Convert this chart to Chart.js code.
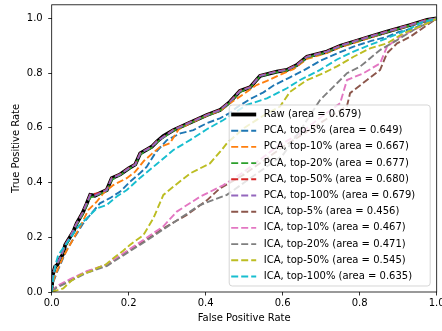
<!DOCTYPE html>
<html>
<head>
<meta charset="utf-8">
<script src="https://cdn.jsdelivr.net/npm/chart.js@4"></script>
<style>
  body { margin: 0; background: #fff; }
</style>
</head>
<body>
<canvas id="roc" width="442" height="331"></canvas>
<script>
// series names and the area shown in the legend
const seriesNames = ['Raw', 'PCA, top-5%', 'PCA, top-10%', 'PCA, top-20%', 'PCA, top-50%', 'PCA, top-100%',
  'ICA, top-5%', 'ICA, top-10%', 'ICA, top-20%', 'ICA, top-50%', 'ICA, top-100%'];
const areas = [0.679, 0.649, 0.667, 0.677, 0.680, 0.679, 0.456, 0.467, 0.471, 0.545, 0.635];
const tickValues = [0, 0.2, 0.4, 0.6, 0.8, 1.0];

// [false positive rate, true positive rate]
const raw = [[0,0],[0.002,0.06],[0.009,0.093],[0.015,0.1],[0.022,0.123],[0.03,0.14],[0.035,0.172],[0.048,0.202],
  [0.056,0.22],[0.065,0.251],[0.08,0.288],[0.09,0.32],[0.1,0.355],[0.112,0.352],[0.125,0.361],[0.143,0.373],
  [0.156,0.416],[0.178,0.43],[0.2,0.452],[0.217,0.466],[0.23,0.507],[0.26,0.531],[0.273,0.55],[0.29,0.57],
  [0.316,0.592],[0.36,0.62],[0.403,0.647],[0.437,0.665],[0.463,0.695],[0.489,0.735],[0.515,0.748],[0.541,0.79],
  [0.585,0.806],[0.611,0.812],[0.637,0.83],[0.663,0.86],[0.715,0.879],[0.75,0.9],[0.784,0.915],[0.83,0.935],
  [0.871,0.952],[0.931,0.976],[0.975,0.995],[1,1]];
const pca5 = [[0,0],[0.005,0.04],[0.013,0.07],[0.022,0.099],[0.039,0.154],[0.06,0.202],[0.082,0.251],[0.1,0.282],
  [0.125,0.324],[0.151,0.343],[0.178,0.367],[0.203,0.403],[0.229,0.434],[0.247,0.458],[0.27,0.51],[0.299,0.555],
  [0.334,0.58],[0.368,0.592],[0.403,0.617],[0.437,0.635],[0.463,0.655],[0.481,0.675],[0.515,0.705],[0.55,0.73],
  [0.576,0.755],[0.619,0.785],[0.654,0.81],[0.697,0.845],[0.741,0.872],[0.784,0.897],[0.83,0.918],[0.871,0.933],
  [0.9,0.95],[0.94,0.964],[0.975,0.985],[1,1]];
const pca10 = [[0,0],[0.004,0.04],[0.013,0.074],[0.03,0.129],[0.052,0.184],[0.074,0.239],[0.095,0.3],[0.117,0.33],
  [0.134,0.361],[0.16,0.391],[0.195,0.416],[0.217,0.44],[0.24,0.48],[0.26,0.505],[0.282,0.531],[0.307,0.544],
  [0.33,0.595],[0.36,0.617],[0.403,0.645],[0.437,0.662],[0.463,0.69],[0.5,0.725],[0.53,0.755],[0.559,0.772],
  [0.59,0.792],[0.628,0.815],[0.663,0.852],[0.715,0.874],[0.75,0.895],[0.784,0.91],[0.83,0.931],[0.871,0.95],
  [0.931,0.974],[0.975,0.993],[1,1]];
const pca20 = [[0,0],[0.002,0.055],[0.009,0.09],[0.022,0.12],[0.035,0.168],[0.048,0.198],[0.065,0.246],[0.08,0.282],
  [0.1,0.345],[0.125,0.358],[0.143,0.37],[0.156,0.41],[0.178,0.428],[0.2,0.45],[0.217,0.464],[0.23,0.503],
  [0.26,0.528],[0.273,0.547],[0.316,0.59],[0.36,0.618],[0.403,0.645],[0.437,0.663],[0.463,0.692],[0.489,0.732],
  [0.515,0.746],[0.541,0.788],[0.585,0.804],[0.611,0.81],[0.637,0.828],[0.663,0.857],[0.715,0.877],[0.75,0.898],
  [0.784,0.913],[0.83,0.933],[0.871,0.95],[0.931,0.975],[0.975,0.994],[1,1]];
const pca50 = [[0,0],[0.002,0.06],[0.009,0.094],[0.022,0.124],[0.035,0.173],[0.048,0.203],[0.065,0.252],[0.08,0.289],
  [0.1,0.356],[0.125,0.362],[0.143,0.374],[0.156,0.417],[0.178,0.431],[0.2,0.453],[0.217,0.467],[0.23,0.508],
  [0.26,0.532],[0.273,0.551],[0.316,0.593],[0.36,0.621],[0.403,0.648],[0.437,0.666],[0.463,0.696],[0.489,0.736],
  [0.515,0.749],[0.541,0.791],[0.585,0.807],[0.611,0.813],[0.637,0.831],[0.663,0.861],[0.715,0.88],[0.75,0.901],
  [0.784,0.916],[0.83,0.936],[0.871,0.953],[0.931,0.977],[0.975,0.996],[1,1]];
const pca100 = [[0,0],[0.002,0.06],[0.009,0.093],[0.022,0.123],[0.035,0.172],[0.048,0.202],[0.065,0.251],[0.08,0.288],
  [0.1,0.355],[0.112,0.352],[0.125,0.361],[0.143,0.373],[0.156,0.416],[0.178,0.43],[0.2,0.452],[0.217,0.466],
  [0.23,0.507],[0.26,0.531],[0.273,0.55],[0.316,0.592],[0.36,0.62],[0.403,0.647],[0.437,0.665],[0.463,0.695],
  [0.489,0.735],[0.515,0.748],[0.541,0.79],[0.585,0.806],[0.611,0.812],[0.637,0.83],[0.663,0.86],[0.715,0.879],
  [0.75,0.9],[0.784,0.915],[0.83,0.935],[0.871,0.952],[0.931,0.976],[0.975,0.995],[1,1]];
const ica5 = [[0,0],[0.013,0.019],[0.048,0.044],[0.091,0.074],[0.143,0.099],[0.195,0.147],[0.238,0.184],[0.29,0.233],
  [0.351,0.282],[0.403,0.335],[0.437,0.379],[0.5,0.43],[0.6,0.53],[0.7,0.62],[0.767,0.68],[0.775,0.727],
  [0.819,0.775],[0.853,0.812],[0.871,0.873],[0.897,0.909],[0.931,0.933],[0.975,0.976],[1,1]];
const ica10 = [[0,0],[0.013,0.022],[0.048,0.047],[0.091,0.076],[0.143,0.1],[0.195,0.15],[0.238,0.19],[0.29,0.24],
  [0.325,0.294],[0.385,0.348],[0.446,0.391],[0.5,0.44],[0.585,0.531],[0.645,0.58],[0.7,0.64],[0.749,0.69],
  [0.767,0.775],[0.81,0.8],[0.853,0.836],[0.871,0.897],[0.905,0.933],[0.949,0.964],[1,1]];
const ica20 = [[0,0],[0.013,0.016],[0.048,0.04],[0.091,0.07],[0.143,0.095],[0.195,0.142],[0.238,0.18],[0.307,0.245],
  [0.385,0.318],[0.455,0.355],[0.5,0.4],[0.55,0.45],[0.6,0.5],[0.65,0.6],[0.697,0.702],[0.741,0.763],
  [0.767,0.8],[0.801,0.824],[0.853,0.885],[0.897,0.921],[0.94,0.958],[1,1]];
const ica50 = [[0,0],[0.03,0.013],[0.05,0.04],[0.074,0.062],[0.1,0.075],[0.117,0.087],[0.14,0.1],[0.16,0.123],
  [0.185,0.15],[0.203,0.172],[0.238,0.208],[0.264,0.269],[0.29,0.355],[0.316,0.385],[0.36,0.434],[0.411,0.47],
  [0.442,0.52],[0.455,0.544],[0.5,0.6],[0.55,0.645],[0.593,0.678],[0.619,0.732],[0.663,0.775],[0.706,0.8],
  [0.741,0.825],[0.784,0.86],[0.827,0.891],[0.871,0.909],[0.914,0.946],[0.975,0.982],[1,1]];
const ica100 = [[0,0],[0.004,0.05],[0.01,0.1],[0.017,0.135],[0.039,0.178],[0.069,0.239],[0.1,0.282],[0.117,0.306],
  [0.143,0.318],[0.169,0.349],[0.195,0.373],[0.23,0.418],[0.273,0.468],[0.316,0.519],[0.36,0.556],[0.403,0.595],
  [0.446,0.629],[0.48,0.66],[0.507,0.684],[0.559,0.708],[0.611,0.745],[0.645,0.775],[0.697,0.812],[0.741,0.85],
  [0.784,0.879],[0.83,0.905],[0.871,0.928],[0.923,0.958],[0.96,0.985],[1,1]];

const curves = [raw, pca5, pca10, pca20, pca50, pca100, ica5, ica10, ica20, ica50, ica100];
const colors = ['#000000', '#1f77b4', '#ff7f0e', '#2ca02c', '#d62728', '#9467bd',
  '#8c564b', '#e377c2', '#7f7f7f', '#bcbd22', '#17becf'];

const font = { family: 'DejaVu Sans', size: 10 };

const datasets = curves.map((c, i) => ({
  label: seriesNames[i] + ' (area = ' + areas[i].toFixed(3) + ')',
  data: c.map(p => ({ x: p[0], y: p[1] })),
  borderColor: colors[i],
  backgroundColor: colors[i],
  borderWidth: i === 0 ? 3.8 : 1.9,
  borderDash: i === 0 ? [] : [7, 3],
  showLine: true,
  pointRadius: 0,
  tension: 0,
  order: curves.length - i   // matplotlib draws later series on top
}));

// boxed legend in the lower right, like matplotlib's
const legendBox = {
  id: 'legendBox',
  afterDatasetsDraw(chart) {
    const { ctx, chartArea } = chart;
    const w = 201, h = 181;
    const x0 = chartArea.right - 6.5 - w, y0 = chartArea.bottom - 6 - h;
    ctx.save();
    ctx.beginPath();
    ctx.roundRect(x0, y0, w, h, 3);
    ctx.fillStyle = 'rgba(255,255,255,0.8)';
    ctx.fill();
    ctx.strokeStyle = 'rgba(204,204,204,0.8)';
    ctx.lineWidth = 1;
    ctx.stroke();
    ctx.font = '10px "DejaVu Sans"';
    ctx.textBaseline = 'middle';
    ctx.fillStyle = '#000';
    chart.data.datasets.forEach((ds, i) => {
      const y = y0 + 9.5 + i * 16.2;
      ctx.beginPath();
      ctx.setLineDash(ds.borderDash);
      ctx.lineWidth = ds.borderWidth;
      ctx.strokeStyle = ds.borderColor;
      ctx.moveTo(x0 + 2, y);
      ctx.lineTo(x0 + 27, y);
      ctx.stroke();
      ctx.fillText(ds.label, x0 + 34.5, y);
    });
    ctx.restore();
  }
};

const frame = {
  id: 'frame',
  afterDraw(chart) {
    const { ctx, chartArea: a } = chart;
    ctx.save();
    ctx.strokeStyle = '#000';
    ctx.lineWidth = 0.8;
    ctx.strokeRect(a.left, a.top, a.right - a.left, a.bottom - a.top);
    ctx.restore();
  }
};

const axisBase = {
  type: 'linear',
  border: { display: false },
  grid: { drawOnChartArea: false, drawTicks: true, tickLength: 3.5, color: '#000', lineWidth: 0.8 },
  afterBuildTicks: s => { s.ticks = tickValues.map(v => ({ value: v })); }
};

new Chart(document.getElementById('roc'), {
  type: 'scatter',
  data: { datasets },
  options: {
    responsive: false,
    animation: false,
    layout: { padding: { left: 0, right: 5.3, top: 4.8, bottom: 0 } },
    plugins: { legend: { display: false }, tooltip: { enabled: false } },
    scales: {
      x: Object.assign({}, axisBase, {
        min: 0, max: 1,
        ticks: { font, color: '#000', padding: 2, callback: v => v.toFixed(1) },
        title: { display: true, text: 'False Positive Rate', font, color: '#000', padding: { top: 0, bottom: 7 } },
        afterFit: s => { s.height = 39; s.paddingLeft = 0; s.paddingRight = 0; }
      }),
      y: Object.assign({}, axisBase, {
        min: 0, max: 1.05,
        ticks: { font, color: '#000', padding: 5.5, callback: v => v.toFixed(1) },
        title: { display: true, text: 'True Positive Rate', font, color: '#000', padding: { top: 10.5, bottom: 0 } },
        afterFit: s => { s.width = 51.7; s.paddingTop = 0; s.paddingBottom = 0; }
      })
    }
  },
  plugins: [legendBox, frame]
});
</script>
</body>
</html>
